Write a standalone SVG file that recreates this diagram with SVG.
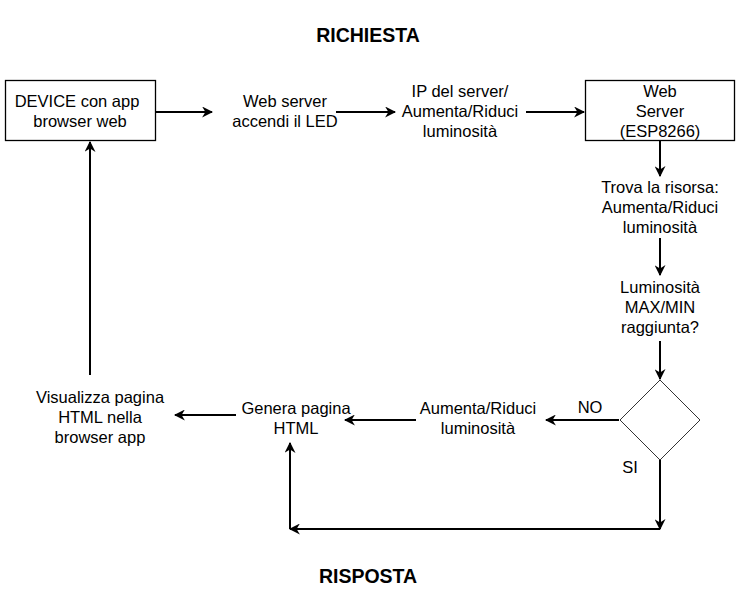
<svg xmlns="http://www.w3.org/2000/svg" width="736" height="611" viewBox="0 0 736 611">
<style>
text{font-family:"Liberation Sans",Arial,sans-serif;font-size:16.5px;fill:#000;text-anchor:middle}
.t{font-size:19.5px;font-weight:bold}
.box{fill:#fff;stroke:#000;stroke-width:1.3}
.dia{fill:#fff;stroke:#000;stroke-width:0.8}
.c{fill:none;stroke:#000;stroke-width:2}
</style>
<defs>
<marker id="a" viewBox="0 0 10 10" refX="9" refY="5" markerWidth="5.5" markerHeight="5.5" orient="auto" markerUnits="strokeWidth">
<path d="M0,0 L10,5 L0,10 L3,5 z" fill="#000"/>
</marker>
</defs>
<g id="title-richiesta"><text class="t" x="368" y="42">RICHIESTA</text></g>
<g id="title-risposta"><text class="t" x="368" y="583">RISPOSTA</text></g>
<g id="device"><rect class="box" x="5.5" y="80.5" width="150" height="60"/><text x="77" y="107">DEVICE con app</text><text x="80" y="127">browser web</text></g>
<g id="webserver-led"><text x="285" y="107">Web server</text><text x="285" y="127">accendi il LED</text></g>
<g id="ip-server"><text x="460" y="97">IP del server/</text><text x="460" y="117">Aumenta/Riduci</text><text x="460" y="137">luminosità</text></g>
<g id="esp"><rect class="box" x="585.5" y="80.5" width="149" height="60"/><text x="660" y="97">Web</text><text x="660" y="117">Server</text><text x="660" y="137">(ESP8266)</text></g>
<g id="trova"><text x="660" y="193">Trova la risorsa:</text><text x="660" y="213">Aumenta/Riduci</text><text x="660" y="233">luminosità</text></g>
<g id="lum-max"><text x="660" y="293">Luminosità</text><text x="660" y="313">MAX/MIN</text><text x="660" y="333">raggiunta?</text></g>
<g id="decision"><polygon class="dia" points="660,380 700,420 660,460 620,420"/></g>
<g id="aumenta"><text x="478" y="414">Aumenta/Riduci</text><text x="478" y="434">luminosità</text></g>
<g id="genera"><text x="296" y="414">Genera pagina</text><text x="296" y="434">HTML</text></g>
<g id="visualizza"><text x="100" y="403">Visualizza pagina</text><text x="100" y="423">HTML nella</text><text x="100" y="443">browser app</text></g>
<g id="connectors">
<line class="c" x1="156" y1="112" x2="212" y2="112" marker-end="url(#a)"/>
<line class="c" x1="336" y1="112" x2="395" y2="112" marker-end="url(#a)"/>
<line class="c" x1="526" y1="112" x2="584" y2="112" marker-end="url(#a)"/>
<line class="c" x1="660" y1="141" x2="660" y2="176" marker-end="url(#a)"/>
<line class="c" x1="660" y1="238" x2="660" y2="275" marker-end="url(#a)"/>
<line class="c" x1="660" y1="341" x2="660" y2="379" marker-end="url(#a)"/>
<line class="c" x1="619" y1="420" x2="546" y2="420" marker-end="url(#a)"/>
<line class="c" x1="416" y1="420" x2="345" y2="420" marker-end="url(#a)"/>
<line class="c" x1="236" y1="415" x2="175" y2="415" marker-end="url(#a)"/>
<line class="c" x1="90" y1="375" x2="90" y2="142" marker-end="url(#a)"/>
<line class="c" x1="660" y1="460" x2="660" y2="529" marker-end="url(#a)"/>
<line class="c" x1="660" y1="529" x2="290" y2="529" marker-end="url(#a)"/>
<line class="c" x1="290" y1="529" x2="290" y2="443" marker-end="url(#a)"/>
<text x="590" y="413">NO</text>
<text x="630" y="473">SI</text>
</g>
</svg>
